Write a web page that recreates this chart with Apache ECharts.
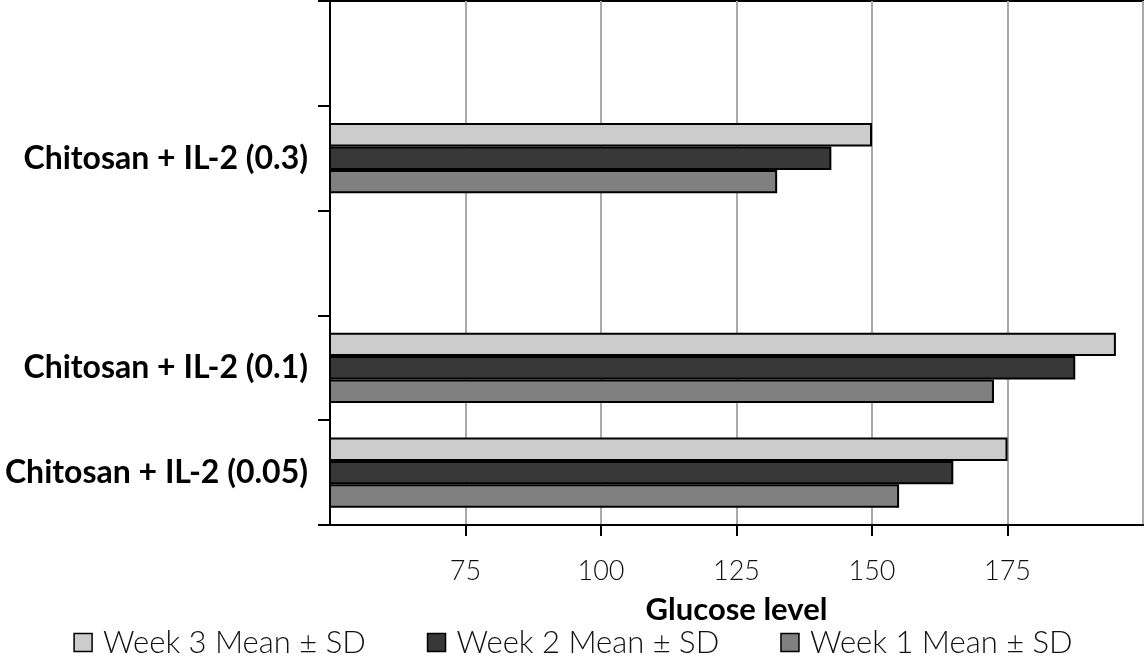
<!DOCTYPE html>
<html>
<head>
<meta charset="utf-8">
<script src="https://cdn.jsdelivr.net/npm/echarts@6/dist/echarts.min.js"></script>
<style>html,body{margin:0;padding:0;background:#fff}#c{width:1146px;height:659px}</style>
</head>
<body>
<div id="c"></div>
<script>
var categories = ['Chitosan + IL-2 (0.05)', 'Chitosan + IL-2 (0.1)', ' ', 'Chitosan + IL-2 (0.3)', '  '];
var week1 = [155, 172.5, null, 132.5, null];
var week2 = [165, 187.5, null, 142.5, null];
var week3 = [175, 195, null, 150, null];
var seriesNames = ['Week 3 Mean ± SD', 'Week 2 Mean ± SD', 'Week 1 Mean ± SD'];
var xTicks = [50, 75, 100, 125, 150, 175, 200];

var FONT = 'Lato';
var chart = echarts.init(document.getElementById('c'), null, {renderer: 'canvas'});
function bar(name, data, color) {
  return {
    name: name, type: 'bar', data: data,
    barCategoryGap: '33%', barGap: '0%',
    itemStyle: {color: color, borderColor: '#000', borderWidth: 2},
    emphasis: {disabled: true}
  };
}
chart.setOption({
  animation: false,
  textStyle: {fontFamily: FONT},
  grid: {left: 330, right: 3, top: 1, bottom: 134, show: true, borderColor: '#000', borderWidth: 2, containLabel: false},
  legend: {
    data: seriesNames, bottom: -4, left: 'center',
    itemWidth: 18, itemHeight: 18, itemGap: 61,
    icon: 'rect',
    itemStyle: {borderColor: '#000', borderWidth: 1.5},
    textStyle: {fontFamily: FONT, fontSize: 31, color: '#111', fontWeight: 300, padding: [0, 0, 0, 6]}
  },
  xAxis: {
    type: 'value', min: xTicks[0], max: xTicks[xTicks.length - 1], interval: 25,
    name: 'Glucose level', nameLocation: 'middle', nameGap: 69,
    nameTextStyle: {fontFamily: FONT, fontSize: 31, fontWeight: 'bold', color: '#000'},
    axisLine: {show: true, lineStyle: {color: '#000', width: 2}},
    axisTick: {show: true, length: 11, lineStyle: {color: '#000', width: 2}},
    axisLabel: {showMinLabel: false, showMaxLabel: false, margin: 33, fontSize: 27, color: '#111', fontFamily: FONT, fontWeight: 300},
    splitLine: {show: true, lineStyle: {color: '#aaa', width: 2}}
  },
  yAxis: {
    type: 'category', data: categories,
    axisLine: {show: true, lineStyle: {color: '#000', width: 2}},
    axisTick: {show: true, length: 12, lineStyle: {color: '#000', width: 2}},
    axisLabel: {fontSize: 32, fontWeight: 'bold', color: '#000', margin: 22, fontFamily: FONT, padding: [14, 0, 0, 0]},
    splitLine: {show: false}
  },
  series: [
    bar(seriesNames[0], week3, '#cccccc'),
    bar(seriesNames[1], week2, '#383838'),
    bar(seriesNames[2], week1, '#808080')
  ]
});
</script>
</body>
</html>
